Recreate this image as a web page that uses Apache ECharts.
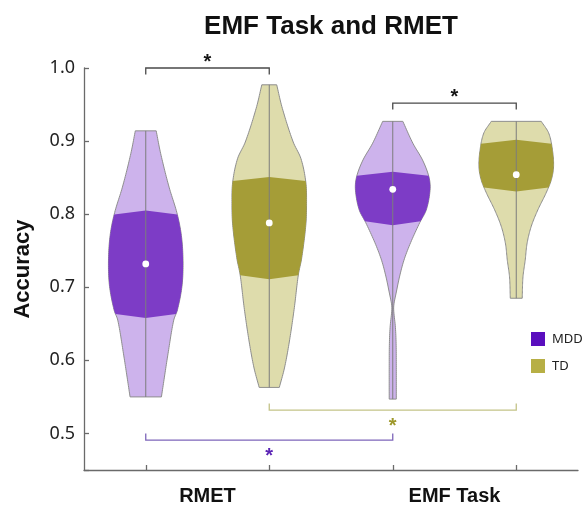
<!DOCTYPE html>
<html>
<head>
<meta charset="utf-8">
<script src="https://cdn.jsdelivr.net/npm/echarts@6/dist/echarts.min.js"></script>
<style>
  html, body { margin: 0; padding: 0; background: #ffffff; }
  #chart { width: 585px; height: 506px; }
</style>
</head>
<body>
<div id="chart"></div>
<script>
// Task groups shown under the axis and the four violin slots (group x diagnosis)
const groups = ['RMET', 'EMF Task'];
const slots = ['RMET MDD', 'RMET TD', 'EMF Task MDD', 'EMF Task TD'];
const seriesNames = ['MDD', 'TD'];

// Violin outlines: [accuracy, relative half-width of the density]
const mddRmetShape = [
  [0.914, 0.28], [0.883, 0.40], [0.838, 0.62], [0.801, 0.84], [0.769, 0.96],
  [0.733, 1.00], [0.701, 0.97], [0.669, 0.85], [0.655, 0.75], [0.610, 0.60], [0.550, 0.42]
];
const tdRmetShape = [
  [0.977, 0.20], [0.945, 0.35], [0.899, 0.64], [0.876, 0.85], [0.844, 0.98],
  [0.815, 1.00], [0.785, 0.98], [0.740, 0.87], [0.717, 0.78], [0.671, 0.67],
  [0.626, 0.54], [0.590, 0.41], [0.563, 0.27]
];
const mddEmfShape = [
  [0.927, 0.27], [0.897, 0.54], [0.874, 0.80], [0.851, 0.97], [0.833, 1.00],
  [0.806, 0.90], [0.788, 0.72], [0.760, 0.47], [0.737, 0.30], [0.714, 0.18],
  [0.692, 0.09], [0.678, 0.035], [0.669, 0.025], [0.646, 0.07], [0.623, 0.09],
  [0.587, 0.095], [0.547, 0.095]
];
const tdEmfShape = [
  [0.927, 0.67], [0.911, 0.87], [0.888, 0.97], [0.865, 1.00], [0.847, 0.94],
  [0.829, 0.80], [0.806, 0.58], [0.783, 0.40], [0.760, 0.29], [0.737, 0.24],
  [0.714, 0.18], [0.685, 0.16]
];
const shapes = [mddRmetShape, tdRmetShape, mddEmfShape, tdEmfShape];

// Quartiles and medians: [q1, median, q3]
const mddRmetStats = [0.658, 0.732, 0.805];
const tdRmetStats = [0.711, 0.788, 0.851];
const mddEmfStats = [0.785, 0.834, 0.858];
const tdEmfStats = [0.831, 0.854, 0.902];

// Significance brackets: [from slot, to slot, accuracy level, side (+1 star above, -1 star below)]
const bracketRows = [
  [0, 1, 1.000, 1],
  [2, 3, 0.952, 1],
  [1, 3, 0.532, -1],
  [0, 2, 0.491, -1]
];
const bracketLineColors = ['#4a4a4a', '#4a4a4a', '#C4C388', '#7E66BA'];
const bracketStarColors = ['#151515', '#151515', '#9E982B', '#5B24B5'];

const palette = {
  MDD: { light: '#CDB3EC', dark: '#7D3CC6', key: '#5A0EBE' },
  TD:  { light: '#DEDCAC', dark: '#A59D37', key: '#B7AF45' }
};

function makeWidthFn(profile) {
  const p = profile.slice().sort((a, b) => a[0] - b[0]);
  const n = p.length;
  const m = p.map((pt, i) => {
    const a = p[Math.max(0, i - 1)], b = p[Math.min(n - 1, i + 1)];
    return (b[1] - a[1]) / (b[0] - a[0]);
  });
  const fn = function (v) {
    if (v <= p[0][0]) return p[0][1];
    if (v >= p[n - 1][0]) return p[n - 1][1];
    let i = 0;
    while (i < n - 2 && v > p[i + 1][0]) i++;
    const h = p[i + 1][0] - p[i][0];
    const t = (v - p[i][0]) / h;
    const t2 = t * t, t3 = t2 * t;
    const w = (2 * t3 - 3 * t2 + 1) * p[i][1] + (t3 - 2 * t2 + t) * h * m[i]
            + (-2 * t3 + 3 * t2) * p[i + 1][1] + (t3 - t2) * h * m[i + 1];
    return Math.max(0.012, w);
  };
  fn.lo = p[0][0];
  fn.hi = p[n - 1][0];
  return fn;
}
const widthFns = shapes.map(makeWidthFn);

function violinItem(params, api, colors) {
  const slot = api.value(0);
  const q1 = api.value(1), med = api.value(2), q3 = api.value(3);
  const wf = widthFns[api.value(4)];
  const band = api.size([1, 0])[0];
  const maxHalf = band * 0.302;
  const pxPerUnit = api.size([0, 1])[1];
  const cx = api.coord([slot, med])[0];
  const yOf = v => api.coord([slot, v])[1];

  // outer density outline
  const K = 140;
  const right = [], left = [];
  for (let k = 0; k <= K; k++) {
    const v = wf.lo + (wf.hi - wf.lo) * k / K;
    const w = wf(v) * maxHalf;
    right.push([cx + w, yOf(v)]);
    left.push([cx - w, yOf(v)]);
  }
  const outer = right.concat(left.reverse());

  // interquartile band with slightly peaked top and bottom edges
  const b = 4;
  const vTop = q3 - b / pxPerUnit, vBot = q1 + b / pxPerUnit;
  const inner = [];
  const M = 60;
  for (let k = 0; k <= M; k++) {
    const v = vBot + (vTop - vBot) * k / M;
    inner.push([cx + wf(v) * maxHalf, yOf(v)]);
  }
  inner.push([cx, yOf(q3)]);
  for (let k = M; k >= 0; k--) {
    const v = vBot + (vTop - vBot) * k / M;
    inner.push([cx - wf(v) * maxHalf, yOf(v)]);
  }
  inner.push([cx, yOf(q1)]);

  const mid = api.coord([slot, med]);
  return {
    type: 'group',
    children: [
      { type: 'polygon', shape: { points: outer },
        style: { fill: colors.light, stroke: '#8e8e8e', lineWidth: 1 } },
      { type: 'polygon', shape: { points: inner },
        style: { fill: colors.dark, stroke: null } },
      { type: 'line', shape: { x1: cx, y1: yOf(wf.lo), x2: cx, y2: yOf(wf.hi) },
        style: { stroke: '#7c7c7c', lineWidth: 1 } },
      { type: 'circle', shape: { cx: mid[0], cy: mid[1], r: 3.4 },
        style: { fill: '#ffffff', stroke: null } }
    ]
  };
}

function bracketItem(params, api) {
  const i = params.dataIndex;
  const from = api.value(0), to = api.value(1), level = api.value(2), side = api.value(3);
  const p1 = api.coord([from, level]);
  const p2 = api.coord([to, level]);
  const leg = 6.5 * side;
  const midX = (p1[0] + p2[0]) / 2;
  return {
    type: 'group',
    children: [
      { type: 'polyline',
        shape: { points: [[p1[0], p1[1] + leg], [p1[0], p1[1]], [p2[0], p2[1]], [p2[0], p2[1] + leg]] },
        style: { stroke: bracketLineColors[i], lineWidth: 1.3, fill: null } },
      { type: 'text',
        style: { text: '*', x: midX, y: p1[1] - side * 11 + 5, align: 'center', verticalAlign: 'middle',
                 fontSize: 20, fontWeight: 'bold', fontFamily: 'Liberation Sans', fill: bracketStarColors[i] } }
    ]
  };
}

const mddData = [
  [0].concat(mddRmetStats, [0]),
  [2].concat(mddEmfStats, [2])
];
const tdData = [
  [1].concat(tdRmetStats, [1]),
  [3].concat(tdEmfStats, [3])
];

const axisGray = '#6a6a6a';
const chart = echarts.init(document.getElementById('chart'), null, { renderer: 'canvas' });
chart.setOption({
  backgroundColor: '#ffffff',
  animation: false,
  title: {
    text: 'EMF Task and RMET',
    left: 326,
    textAlign: 'center',
    top: 9,
    textStyle: { fontFamily: 'Liberation Sans', fontWeight: 'bold', fontSize: 26, color: '#111111' }
  },
  legend: {
    orient: 'vertical',
    left: 531,
    top: 332,
    padding: 0,
    itemWidth: 14,
    itemHeight: 14,
    itemGap: 13,
    icon: 'rect',
    data: [
      { name: 'MDD', itemStyle: { color: palette.MDD.key } },
      { name: 'TD', itemStyle: { color: palette.TD.key } }
    ],
    textStyle: { fontFamily: 'Noto Sans', fontSize: 13, color: '#222222', padding: [0, 0, 0, 2] }
  },
  grid: { left: 84, right: 7, top: 68, bottom: 36 },
  xAxis: [
    {
      type: 'category',
      data: slots,
      axisLine: { show: true, lineStyle: { color: axisGray, width: 1.3 } },
      axisTick: { show: true, alignWithLabel: true, inside: true, length: 5, lineStyle: { color: axisGray, width: 1.3 } },
      axisLabel: { show: false },
      splitLine: { show: false }
    },
    {
      type: 'category',
      data: groups,
      position: 'bottom',
      axisLine: { show: false },
      axisTick: { show: false },
      axisLabel: { margin: 16, fontFamily: 'Liberation Sans', fontWeight: 'bold', fontSize: 20, color: '#111111' },
      splitLine: { show: false }
    }
  ],
  yAxis: {
    type: 'value',
    min: 0.45,
    max: 1.0,
    name: 'Accuracy',
    nameLocation: 'middle',
    nameRotate: 90,
    nameGap: 50,
    nameTextStyle: { fontFamily: 'Liberation Sans', fontWeight: 'bold', fontSize: 22, color: '#111111' },
    axisLine: { show: true, lineStyle: { color: axisGray, width: 1.3 } },
    axisTick: { show: true, inside: true, length: 5, lineStyle: { color: axisGray, width: 1.3 } },
    axisLabel: {
      margin: 9,
      fontFamily: 'Noto Sans',
      fontSize: 18,
      color: '#222222',
      formatter: v => (Math.abs(v - 0.45) < 1e-6 ? '' : v.toFixed(1))
    },
    splitLine: { show: false }
  },
  series: [
    {
      name: 'MDD',
      type: 'custom',
      xAxisIndex: 0,
      itemStyle: { color: palette.MDD.key },
      renderItem: (params, api) => violinItem(params, api, palette.MDD),
      encode: { x: 0, y: [1, 2, 3] },
      data: mddData,
      clip: false
    },
    {
      name: 'TD',
      type: 'custom',
      xAxisIndex: 0,
      itemStyle: { color: palette.TD.key },
      renderItem: (params, api) => violinItem(params, api, palette.TD),
      encode: { x: 0, y: [1, 2, 3] },
      data: tdData,
      clip: false
    },
    {
      name: 'significance',
      type: 'custom',
      xAxisIndex: 0,
      renderItem: bracketItem,
      encode: { x: [0, 1], y: 2 },
      data: bracketRows,
      clip: false,
      silent: true
    }
  ]
});
</script>
</body>
</html>
